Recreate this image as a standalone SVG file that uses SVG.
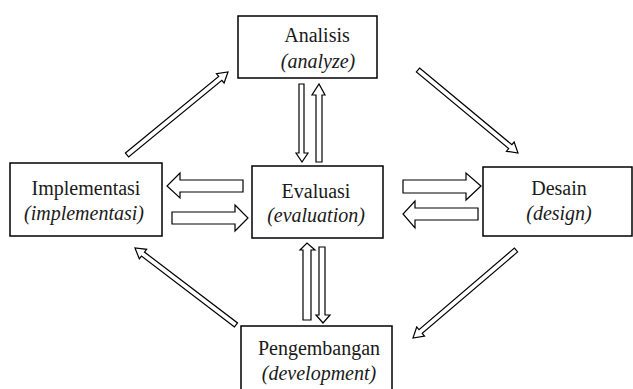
<svg xmlns="http://www.w3.org/2000/svg" width="633" height="389" viewBox="0 0 633 389">
<style>
.box{fill:#fff;stroke:#000;stroke-width:1.5}
.arr{fill:#fff;stroke:#000;stroke-width:1.2;stroke-linejoin:miter}
.t{font-family:'Liberation Serif','Times New Roman',serif;font-size:20px;fill:#1a1a1a;text-anchor:middle}
.it{font-style:italic}
</style>
<rect width="633" height="389" fill="#fff"/>
<g id="connectors">
<polygon class="arr" points="299,84 304,84 304,153 308,153 302,162 296,153 299,153"/>
<polygon class="arr" points="316,162 322,162 322,95 325,95 319,84 312,95 316,95"/>
<polygon class="arr" points="243,180 180,180 180,173 167,186 180,198 180,192 243,192"/>
<polygon class="arr" points="172,212 235,212 235,205 248,218 235,231 235,224 172,224"/>
<polygon class="arr" points="403,180 466,180 466,173 481,186 466,200 466,193 403,193"/>
<polygon class="arr" points="478,208 415,208 415,201 403,214 415,228 415,220 478,220"/>
<polygon class="arr" points="303,320 311,320 311,250 315,250 307,243 300,250 303,250"/>
<polygon class="arr" points="319,247 325,247 325,315 330,315 323,323 316,315 319,315"/>
<polygon class="arr" transform="translate(228,72) rotate(-39.4)" points="-130.7,-2.5 -10,-2.5 -10,-6 0,0 -10,6 -10,2.5 -130.7,2.5"/>
<polygon class="arr" transform="translate(518,153) rotate(39.7)" points="-130,-2.5 -10,-2.5 -10,-6 0,0 -10,6 -10,2.5 -130,2.5"/>
<polygon class="arr" transform="translate(135,248) rotate(-142.7)" points="-127,-2.5 -10,-2.5 -10,-6 0,0 -10,6 -10,2.5 -127,2.5"/>
<polygon class="arr" transform="translate(413,338) rotate(139.5)" points="-135.5,-2.5 -10,-2.5 -10,-6 0,0 -10,6 -10,2.5 -135.5,2.5"/>
</g>
<g id="analisis">
<rect class="box" x="238" y="16" width="139" height="62"/>
<text class="t" x="317" y="42">Analisis</text>
<text class="t it" x="318" y="68">(analyze)</text>
</g>
<g id="implementasi">
<rect class="box" x="10" y="163" width="152" height="73"/>
<text class="t" x="86" y="195">Implementasi</text>
<text class="t it" x="84" y="220">(implementasi)</text>
</g>
<g id="evaluasi">
<rect class="box" x="252" y="166" width="131" height="72"/>
<text class="t" x="316" y="198">Evaluasi</text>
<text class="t it" x="316" y="222">(evaluation)</text>
</g>
<g id="desain">
<rect class="box" x="483" y="167" width="149" height="69"/>
<text class="t" x="559" y="195">Desain</text>
<text class="t it" x="559" y="220">(design)</text>
</g>
<g id="pengembangan">
<rect class="box" x="241" y="326" width="151" height="66"/>
<text class="t" x="319" y="355">Pengembangan</text>
<text class="t it" x="319" y="380">(development)</text>
</g>
</svg>
